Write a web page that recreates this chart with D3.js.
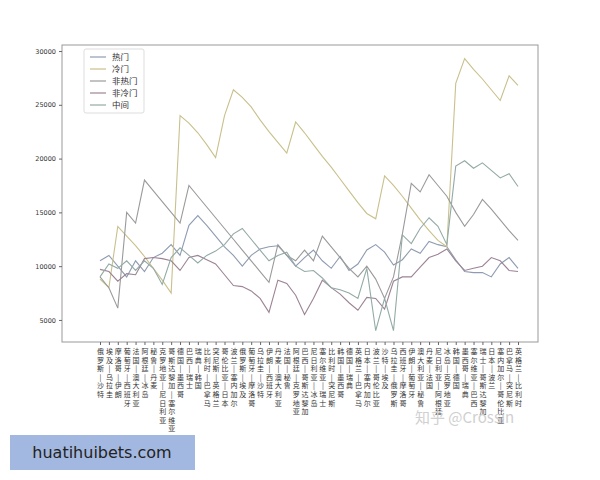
<!DOCTYPE html>
<html><head><meta charset="utf-8">
<script src="https://cdn.jsdelivr.net/npm/d3@7"></script>
<style>body{margin:0;background:#fff;font-family:"Noto Sans CJK SC","DejaVu Sans",sans-serif}</style>
</head><body>
<svg id="c" width="600" height="480"></svg>
<script>
const matches = ["俄罗斯 — 沙特","埃及 — 乌拉圭","摩洛哥 — 伊朗","葡萄牙 — 西班牙","法国 — 澳大利亚","阿根廷 — 冰岛","秘鲁 — 丹麦","克罗地亚 — 尼日利亚","哥斯达黎加 — 塞尔维亚","德国 — 墨西哥","巴西 — 瑞士","瑞典 — 韩国","比利时 — 巴拿马","突尼斯 — 英格兰","哥伦比亚 — 日本","波兰 — 塞内加尔","俄罗斯 — 埃及","葡萄牙 — 摩洛哥","乌拉圭 — 沙特","伊朗 — 西班牙","丹麦 — 澳大利亚","法国 — 秘鲁","阿根廷 — 克罗地亚","巴西 — 哥斯达黎加","尼日利亚 — 冰岛","塞尔维亚 — 瑞士","比利时 — 突尼斯","韩国 — 墨西哥","德国 — 瑞典","英格兰 — 巴拿马","日本 — 塞内加尔","波兰 — 哥伦比亚","沙特 — 埃及","乌拉圭 — 俄罗斯","西班牙 — 摩洛哥","伊朗 — 葡萄牙","澳大利亚 — 秘鲁","丹麦 — 法国","尼日利亚 — 阿根廷","冰岛 — 克罗地亚","韩国 — 德国","墨西哥 — 瑞典","塞尔维亚 — 巴西","瑞士 — 哥斯达黎加","日本 — 波兰","塞内加尔 — 哥伦比亚","巴拿马 — 突尼斯","英格兰 — 比利时"];
const seriesNames = ["热门","冷门","非热门","非冷门","中间"];
const hot =     [10500,11000,10000,9000,10500,9500,10800,11200,12000,11000,13800,14700,13800,12800,11800,11000,10000,11000,11600,11800,11900,11000,10000,10800,11500,10500,9800,10900,9600,10200,11500,12000,11300,10100,10600,11600,11200,12300,12000,11800,10600,9500,9400,9400,9000,10200,10800,9800];
const cold =    [8800,8000,13700,12800,11900,10900,9800,8700,7500,24000,23300,22400,21300,20100,24000,26400,25700,24800,23600,22500,21500,20500,23400,22400,21300,20200,19200,18100,17000,15900,14900,14400,18400,17500,16500,15400,14300,13300,12400,11800,27000,29300,28300,27400,26400,25400,27700,26800];
const nonHot =  [9000,8000,6100,15000,14000,18000,17000,16000,15000,14000,17500,16500,15500,14500,13500,12500,11500,10500,9500,8500,12000,11000,10500,11500,10500,12800,11800,10800,9800,9000,10000,8800,7000,9000,13000,17700,16900,18500,17500,16500,15000,13700,14800,16200,15300,14300,13300,12400];
const nonCold = [9700,9500,8600,9300,9200,10700,10800,10700,10500,9600,10800,11000,10600,10200,9200,8200,8100,7700,7000,5700,8700,8400,7300,5500,7000,8700,8000,7400,6600,5900,7100,7000,6000,8600,9000,9000,9900,10800,11100,11600,10500,9600,9800,10000,10800,10500,9600,9500];
const mid =     [9000,10200,9800,10500,9600,10500,9800,8300,10800,11700,11000,10300,11000,11400,12000,13000,13500,12500,11500,10500,11000,11300,10000,9500,9600,8900,8000,7800,7500,7000,9800,4000,7000,4000,12900,12100,13500,14500,13700,12000,19300,19800,19100,19600,18900,18200,18600,17400];
const yTicks = [5000,10000,15000,20000,25000,30000];
const colors = ["#8e9cb2","#c9c08c","#9a9a9a","#9c8395","#93aaa6"];
const data = [hot,cold,nonHot,nonCold,mid];

const svg = d3.select("#c");
const L=62,R=538,T=45,B=342;
const x = d3.scalePoint().domain(matches).range([100,518]);
const y = d3.scaleLinear().domain([2950,30560]).range([B,T]);
svg.append("rect").attr("x",L).attr("y",T).attr("width",R-L).attr("height",B-T).attr("fill","none").attr("stroke","#999").attr("stroke-width",1);
const ya = svg.append("g").attr("transform",`translate(${L},0)`).call(d3.axisLeft(y).tickValues(yTicks).tickSize(3).tickFormat(d3.format("d")));
ya.select(".domain").remove();
ya.selectAll("text").attr("font-size",6.5).attr("fill","#333").attr("font-family","DejaVu Sans");
ya.selectAll("line").attr("stroke","#666");
const xa = svg.append("g").attr("transform",`translate(0,${B})`).call(d3.axisBottom(x).tickSize(3).tickFormat(""));
xa.select(".domain").remove();
xa.selectAll("line").attr("stroke","#666");
xa.selectAll(".tick").each(function(d){
  const g=d3.select(this);
  const chars=Array.from(d.replace(" — ","|"));
  const t=g.append("text").attr("text-anchor","middle").attr("font-size",7).attr("fill","#333").attr("font-family","Noto Sans CJK SC");
  chars.forEach((c,i)=>t.append("tspan").attr("x",0).attr("y",12+i*8.6).text(c));
});
const line = d3.line().x((d,i)=>x(matches[i])).y(d=>y(d));
data.forEach((s,k)=>svg.append("path").datum(s).attr("d",line).attr("fill","none").attr("stroke",colors[k]).attr("stroke-width",1.1));
const lg = svg.append("g").attr("transform","translate(84,49)");
lg.append("rect").attr("width",60).attr("height",64).attr("fill","#fff").attr("stroke","#ddd").attr("rx",2);
seriesNames.forEach((n,i)=>{
  lg.append("line").attr("x1",6).attr("x2",22).attr("y1",8+i*12).attr("y2",8+i*12).attr("stroke",colors[i]).attr("stroke-width",1.2);
  lg.append("text").attr("x",28).attr("y",11+i*12).attr("font-size",8.5).attr("fill","#333").text(n);
});
svg.append("text").attr("x",415).attr("y",423).attr("font-size",15).attr("fill","#d0d0d0").text("知乎 @Crossin");
svg.append("rect").attr("x",10).attr("y",435).attr("width",185).attr("height",35).attr("fill","#a3b8e0");
svg.append("text").attr("x",102).attr("y",458).attr("text-anchor","middle").attr("font-size",16).attr("fill","#222").attr("font-family","DejaVu Sans").text("huatihuibets.com");
</script>
</body></html>
